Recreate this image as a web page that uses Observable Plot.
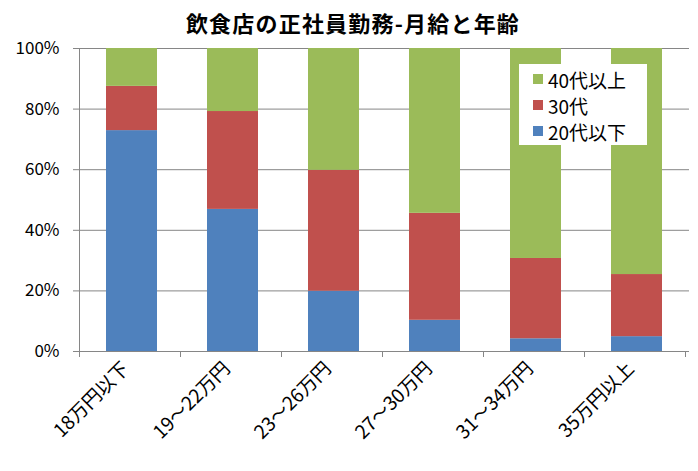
<!DOCTYPE html>
<html>
<head>
<meta charset="utf-8">
<script src="https://cdn.jsdelivr.net/npm/d3@7"></script>
<script src="https://cdn.jsdelivr.net/npm/@observablehq/plot@0.6"></script>
<style>
  html, body { margin: 0; padding: 0; background: #fff; }
  #wrap { position: relative; width: 698px; height: 471px; font-family: "Noto Sans CJK JP", "Noto Sans", sans-serif; }
  #title { height: 30px; line-height: 44px; text-align: center; font-size: 22px; font-weight: bold; color: #000; padding-left: 8px; letter-spacing: 1.2px; white-space: nowrap; }
  #chart svg { overflow: visible; }
  #legend { position: absolute; left: 519px; top: 64px; width: 128px; height: 81px; background: #fff; box-sizing: border-box; padding: 2px 0 0 14px; }
  .li { display: flex; align-items: center; height: 26px; font-size: 19px; color: #000; }
  .sw { width: 10px; height: 10px; margin-right: 5px; }
</style>
</head>
<body>
<div id="wrap">
  <div id="title">飲食店の正社員勤務-月給と年齢</div>
  <div id="chart"></div>
  <div id="legend"></div>
</div>
<script>
const categories = ["18万円以下", "19～22万円", "23～26万円", "27～30万円", "31～34万円", "35万円以上"];
const series = ["20代以下", "30代", "40代以上"];
const under20s = [72.9, 46.9, 19.9, 10.3, 4.2, 4.9];
const thirties = [14.6, 32.3, 39.9, 35.3, 26.5, 20.5];
const over40s = [12.5, 20.8, 40.2, 54.4, 69.3, 74.6];
const yTicks = [0, 20, 40, 60, 80, 100];
const colors = ["#4f81bd", "#c0504d", "#9bbb59"];

const seriesValues = [under20s, thirties, over40s];
const data = [];
categories.forEach((c, i) => {
  series.forEach((s, j) => data.push({category: c, series: s, value: seriesValues[j][i]}));
});

const axisColor = "#868686";

const boundaryTicks = (index, scales, values, dimensions) => {
  const x = scales.x, y = scales.y;
  const step = x(categories[1]) - x(categories[0]);
  const start = dimensions.marginLeft;
  const g = d3.create("svg:g").attr("stroke", axisColor).attr("stroke-width", 1);
  const y0 = y(0);
  for (let k = 0; k <= categories.length; k++) {
    const px = Math.round(start + k * step) + 0.5;
    g.append("line").attr("x1", px).attr("x2", px).attr("y1", y0).attr("y2", y0 + 6);
  }
  g.append("line")
    .attr("x1", start + 0.5).attr("x2", start + 0.5)
    .attr("y1", y(0)).attr("y2", y(100));
  return g.node();
};

const chart = Plot.plot({
  width: 698,
  height: 441,
  marginTop: 18,
  marginBottom: 120,
  marginLeft: 79,
  marginRight: 9,
  style: {fontFamily: "'Noto Sans CJK JP', 'Noto Sans', sans-serif", color: "#000", background: "#fff", overflow: "visible"},
  x: {domain: categories, paddingInner: 0.5, paddingOuter: 0.25, label: null},
  y: {domain: [0, 100], label: null},
  color: {domain: series, range: colors},
  marks: [
    Plot.gridY({ticks: yTicks, stroke: axisColor, strokeOpacity: 1}),
    Plot.barY(data, {x: "category", y: "value", fill: "series"}),
    Plot.axisY({ticks: yTicks, tickFormat: d => d + "%", tickSize: 6, tickPadding: 14, fontSize: 17, stroke: axisColor, color: "#000", label: null}),
    Plot.axisX({tickSize: 0, tickRotate: -45, tickPadding: 14, dx: -6, fontSize: 19, label: null}),
    boundaryTicks
  ]
});
document.getElementById("chart").appendChild(chart);

const legend = document.getElementById("legend");
series.slice().reverse().forEach(s => {
  const row = document.createElement("div");
  row.className = "li";
  const sw = document.createElement("span");
  sw.className = "sw";
  sw.style.background = colors[series.indexOf(s)];
  const t = document.createElement("span");
  t.textContent = s;
  row.appendChild(sw);
  row.appendChild(t);
  legend.appendChild(row);
});
</script>
</body>
</html>
